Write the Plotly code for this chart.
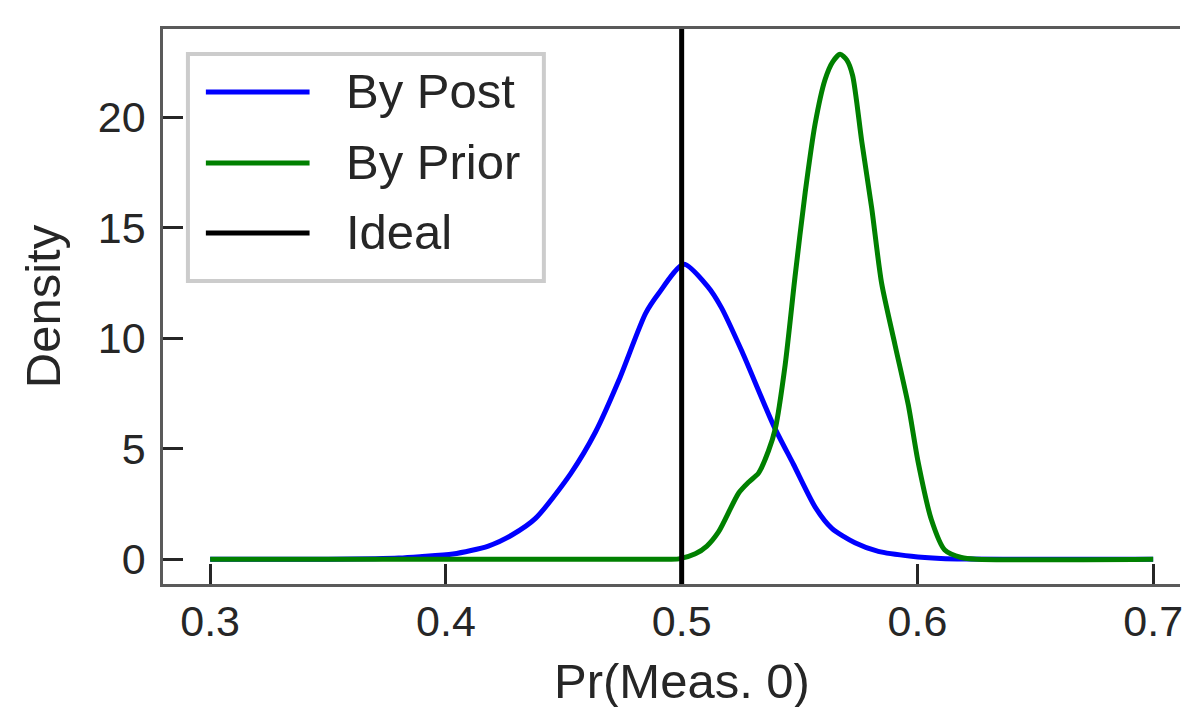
import plotly.graph_objects as go

# ---------------- data ----------------
post_x = [0.30, 0.33, 0.35, 0.37, 0.38, 0.389, 0.403, 0.418, 0.428, 0.438, 0.453,
          0.4635, 0.4734, 0.4847, 0.4903, 0.5009, 0.511, 0.5168, 0.5256, 0.539,
          0.5474, 0.5567, 0.5637, 0.5735, 0.5834, 0.5975, 0.61, 0.62, 0.65, 0.70]
post_y = [0.0, 0.0, 0.005, 0.03, 0.06, 0.12, 0.24, 0.60, 1.10, 1.85, 3.89,
          5.77, 8.11, 11.13, 12.04, 13.35, 12.35, 11.4, 9.4, 6.05,
          4.3, 2.35, 1.4, 0.75, 0.36, 0.14, 0.04, 0.01, 0.0, 0.0]

prior_x = [0.30, 0.49, 0.4988, 0.5058, 0.5107, 0.5157, 0.5242, 0.5285, 0.5326, 0.5368,
           0.5397, 0.5439, 0.5481, 0.5524, 0.5566, 0.5608, 0.5640, 0.5672, 0.5700,
           0.5725, 0.5764, 0.5806, 0.5848, 0.5905, 0.5961, 0.6003, 0.6059, 0.6116,
           0.6186, 0.625, 0.70]
prior_y = [0.0, 0.0, 0.02, 0.25, 0.6, 1.25, 3.0, 3.5, 3.9, 4.9,
           5.9, 8.8, 12.8, 16.6, 19.7, 21.7, 22.5, 22.85, 22.6,
           21.9, 18.9, 15.9, 12.5, 9.7, 7.0, 4.4, 1.8, 0.42,
           0.08, 0.0, 0.0]

ideal_x = 0.5

series_names = ["By Post", "By Prior", "Ideal"]
series_colors = ["#0000ff", "#008000", "#000000"]

x_ticks = [0.3, 0.4, 0.5, 0.6, 0.7]
y_ticks = [0, 5, 10, 15, 20]
x_label = "Pr(Meas. 0)"
y_label = "Density"

# ---------------- styling ----------------
FONT = "Liberation Sans, Arial, Helvetica, sans-serif"
TEXT = "#262626"
SPINE = "#5a5a5a"
LW = 5
TICK_FS, LABEL_FS, LEGEND_FS = 43, 49, 49

W, H = 1183, 707
ML, MR, MT, MB = 163, 0, 29, H - 584
PW, PH = W - ML - MR, H - MT - MB
PX_PER_X = 2364.5          # pixels per x unit in the reference
PX_PER_Y = 22.1            # pixels per y unit in the reference

def px_x(p):
    return (p - ML) / PW

def px_y(p):
    return (H - MB - p) / PH

fig = go.Figure()
for xs, ys, name, col in [(post_x, post_y, series_names[0], series_colors[0]),
                          (prior_x, prior_y, series_names[1], series_colors[1])]:
    fig.add_trace(go.Scatter(x=xs, y=ys, mode="lines", name=name, showlegend=False,
                             line=dict(color=col, width=LW, shape="spline", smoothing=0.7)))

fig.add_vline(x=ideal_x, line=dict(color=series_colors[2], width=LW))

# ---------------- legend (matplotlib-like box) ----------------
shapes = [dict(type="rect", xref="paper", yref="paper",
               x0=px_x(188), x1=px_x(545), y0=px_y(281), y1=px_y(54),
               line=dict(color="#cccccc", width=4), fillcolor="white", layer="above")]
row_y = [92, 163, 233]
annotations = []
for name, col, ry in zip(series_names, series_colors, row_y):
    shapes.append(dict(type="line", xref="paper", yref="paper",
                       x0=px_x(206), x1=px_x(310), y0=px_y(ry), y1=px_y(ry),
                       line=dict(color=col, width=LW)))
    annotations.append(dict(xref="paper", yref="paper", x=px_x(345), y=px_y(ry - 1),
                            xanchor="left", yanchor="middle", text=name, showarrow=False,
                            font=dict(family=FONT, size=LEGEND_FS, color=TEXT)))
for s in shapes:
    fig.add_shape(**s)
for a in annotations:
    fig.add_annotation(**a)

# x-axis label, centred on the full (uncropped) axes like the reference
fig.add_annotation(xref="x", yref="paper", x=0.5, y=0, yanchor="top", yshift=-68,
                   text=x_label, showarrow=False,
                   font=dict(family=FONT, size=LABEL_FS, color=TEXT))

axis_common = dict(showgrid=False, zeroline=False, showline=True, linecolor=SPINE,
                   linewidth=2.5, ticks="inside", ticklen=20, tickwidth=3,
                   tickcolor=TEXT, tickfont=dict(family=FONT, size=TICK_FS, color=TEXT),
                   ticklabeloverflow="allow")

x0 = 0.28
fig.update_layout(
    width=W, height=H,
    margin=dict(l=ML, r=MR, t=MT, b=MB, pad=0),
    paper_bgcolor="white", plot_bgcolor="white",
    font=dict(family=FONT, color=TEXT),
    xaxis=dict(range=[x0, x0 + PW / PX_PER_X], tickvals=x_ticks, tickformat=".1f",
               ticklabelstandoff=-2, mirror=True, **axis_common),
    yaxis=dict(range=[-1.118, -1.118 + PH / PX_PER_Y], tickvals=y_ticks,
               ticklabelstandoff=6, mirror=False,
               title=dict(text=y_label, font=dict(family=FONT, size=LABEL_FS, color=TEXT),
                          standoff=22),
               **axis_common),
)

fig.write_html("out.html",
               config=dict(displayModeBar=False),
               post_script="document.body.style.margin='0';"
                           "document.body.style.overflow='hidden';"
                           "document.documentElement.style.overflow='hidden';")
